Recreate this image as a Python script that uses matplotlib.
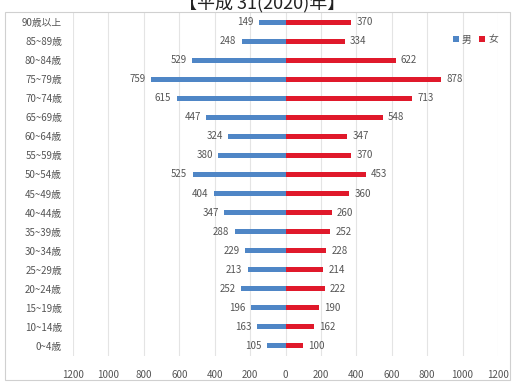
import matplotlib
matplotlib.use("Agg")
import matplotlib.pyplot as plt
from matplotlib.patches import Rectangle

plt.rcParams['font.family'] = ['Noto Sans CJK JP', 'DejaVu Sans']

age_groups = ["0~4歳", "10~14歳", "15~19歳", "20~24歳", "25~29歳", "30~34歳",
              "35~39歳", "40~44歳", "45~49歳", "50~54歳", "55~59歳", "60~64歳",
              "65~69歳", "70~74歳", "75~79歳", "80~84歳", "85~89歳", "90歳以上"]
male = [105, 163, 196, 252, 213, 229, 288, 347, 404, 525, 380, 324,
        447, 615, 759, 529, 248, 149]
female = [100, 162, 190, 222, 214, 228, 252, 260, 360, 453, 370, 347,
          548, 713, 878, 622, 334, 370]
tick_values = [-1200, -1000, -800, -600, -400, -200, 0, 200, 400, 600, 800, 1000, 1200]
tick_labels = [str(abs(v)) for v in tick_values]
title = "【平成 31(2020)年】"

W, H = 515, 383
fig = plt.figure(figsize=(W / 100, H / 100), dpi=100)
fig.patch.set_facecolor("white")

# outer chart frame
fig.patches.append(Rectangle((5 / W, 3 / H), 505 / W, 368 / H, transform=fig.transFigure,
                             fill=False, edgecolor="#d0d0d0", linewidth=0.8))
fig.text(262 / W, 1 - 8 / H, title, ha="center", va="baseline", fontsize=13, color="#222222")

ax = fig.add_axes([73 / W, 1 - 356 / H, 425 / W, 344 / H])
blue = "#4f86c6"
red = "#e0192b"
y = list(range(len(age_groups)))
bh = 0.28
ax.barh(y, [-m for m in male], height=bh, color=blue, label="男", zorder=3)
ax.barh(y, female, height=bh, color=red, label="女", zorder=3)

txt = "#555555"
for yi, m, f in zip(y, male, female):
    ax.text(-m - 30, yi, str(m), ha="right", va="center", fontsize=7, color=txt)
    ax.text(f + 30, yi, str(f), ha="left", va="center", fontsize=7, color=txt)

ax.set_xlim(-1200, 1200)
ax.set_ylim(-0.55, len(age_groups) - 0.45)
ax.set_xticks(tick_values)
ax.set_xticklabels(tick_labels, fontsize=7, color=txt)
ax.set_yticks(y)
ax.set_yticklabels(age_groups, fontsize=7, color=txt)
ax.tick_params(length=0, pad=8)
ax.tick_params(axis="x", pad=10)
ax.grid(axis="x", color="#e4e4e4", linewidth=0.8, zorder=0)
for s in ax.spines.values():
    s.set_visible(False)

ax.legend(loc="upper right", bbox_to_anchor=(1.02, 0.96), ncol=2, frameon=False,
          fontsize=7, handlelength=0.6, handleheight=0.6, handletextpad=0.3,
          columnspacing=0.8, labelcolor=txt)

fig.savefig("out.png", dpi=100)
